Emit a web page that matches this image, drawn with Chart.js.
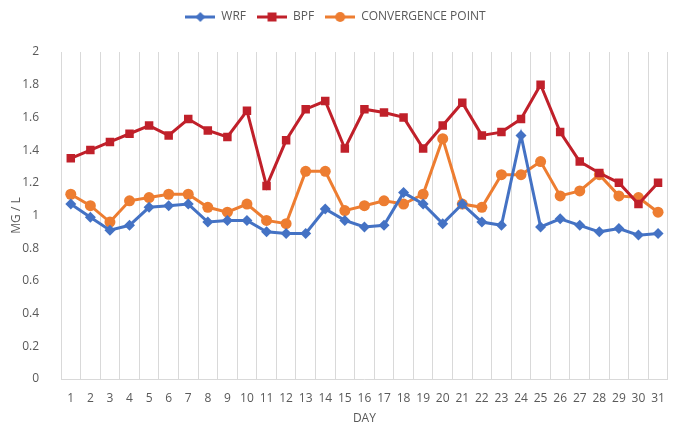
<!DOCTYPE html>
<html>
<head>
<meta charset="utf-8">
<script src="https://cdn.jsdelivr.net/npm/chart.js@4.4.1/dist/chart.umd.min.js"></script>
<style>
  html, body { margin: 0; padding: 0; background: #fff; }
  #wrap { width: 677px; height: 426px; }
</style>
</head>
<body>
<div id="wrap"><canvas id="lineChart"></canvas></div>
<script>
var days = ['1','2','3','4','5','6','7','8','9','10','11','12','13','14','15','16','17','18','19','20','21','22','23','24','25','26','27','28','29','30','31'];
var wrf = [1.07, 0.99, 0.91, 0.94, 1.05, 1.06, 1.07, 0.96, 0.97, 0.97, 0.90, 0.89, 0.89, 1.04, 0.97, 0.93, 0.94, 1.14, 1.07, 0.95, 1.07, 0.96, 0.94, 1.49, 0.93, 0.98, 0.94, 0.90, 0.92, 0.88, 0.89];
var bpf = [1.35, 1.40, 1.45, 1.50, 1.55, 1.49, 1.59, 1.52, 1.48, 1.64, 1.18, 1.46, 1.65, 1.70, 1.41, 1.65, 1.63, 1.60, 1.41, 1.55, 1.69, 1.49, 1.51, 1.59, 1.80, 1.51, 1.33, 1.26, 1.20, 1.07, 1.20];
var convergence = [1.13, 1.06, 0.96, 1.09, 1.11, 1.13, 1.13, 1.05, 1.02, 1.07, 0.97, 0.95, 1.27, 1.27, 1.03, 1.06, 1.09, 1.07, 1.13, 1.47, 1.07, 1.05, 1.25, 1.25, 1.33, 1.12, 1.15, 1.25, 1.12, 1.11, 1.02];

var FONT = "'Open Sans', 'Liberation Sans', sans-serif";

// legend icon: short line with the marker in the middle
function legendIcon(color, shape) {
    var c = document.createElement('canvas');
    c.width = 30; c.height = 14;
    var g = c.getContext('2d');
    g.strokeStyle = color;
    g.fillStyle = color;
    g.lineWidth = 3;
    g.beginPath(); g.moveTo(0, 7); g.lineTo(30, 7); g.stroke();
    g.beginPath();
    if (shape === 'diamond') {
        g.moveTo(15, 2); g.lineTo(20, 7); g.lineTo(15, 12); g.lineTo(10, 7);
    } else if (shape === 'square') {
        g.rect(10.5, 2.5, 9, 9);
    } else {
        g.arc(15, 7, 5, 0, Math.PI * 2);
    }
    g.closePath();
    g.fill();
    return c;
}

// fix the legend height so the plot top lands where the reference has it
Chart.register({
    id: 'legendHeight',
    beforeInit: function (chart) {
        if (!chart.legend) return;
        var orig = chart.legend.fit;
        chart.legend.fit = function () { orig.call(this); this.height = 52; };
    }
});

document.addEventListener('DOMContentLoaded', function () {
    var ctx = document.getElementById('lineChart').getContext('2d');
    var icons = [legendIcon('#4472C4', 'diamond'), legendIcon('#C0202A', 'square'), legendIcon('#ED7D31', 'circle')];

    new Chart(ctx, {
        type: 'line',
        data: {
            labels: days,
            datasets: [{
                label: 'WRF',
                data: wrf,
                borderColor: '#4472C4',
                backgroundColor: '#4472C4',
                borderWidth: 3,
                pointStyle: 'rectRot',
                pointRadius: 5.5,
                pointBorderWidth: 0
            }, {
                label: 'BPF',
                data: bpf,
                borderColor: '#C0202A',
                backgroundColor: '#C0202A',
                borderWidth: 3,
                pointStyle: 'rect',
                pointRadius: 6,
                pointBorderWidth: 0
            }, {
                label: 'CONVERGENCE POINT',
                data: convergence,
                borderColor: '#ED7D31',
                backgroundColor: '#ED7D31',
                borderWidth: 3,
                pointStyle: 'circle',
                pointRadius: 5.5,
                pointBorderWidth: 0
            }]
        },
        options: {
            responsive: true,
            maintainAspectRatio: false,
            animation: false,
            layout: { padding: { left: 0, right: 6, top: 0, bottom: 0 } },
            plugins: {
                legend: {
                    position: 'top',
                    labels: {
                        usePointStyle: true,
                        pointStyleWidth: 30,
                        boxHeight: 14,
                        font: { family: FONT, size: 12 },
                        color: '#595959',
                        padding: 11,
                        generateLabels: function (chart) {
                            return chart.data.datasets.map(function (ds, i) {
                                return {
                                    text: ds.label,
                                    pointStyle: icons[i],
                                    fillStyle: ds.borderColor,
                                    strokeStyle: ds.borderColor,
                                    lineWidth: 0,
                                    datasetIndex: i,
                                    fontColor: '#595959'
                                };
                            });
                        }
                    }
                },
                tooltip: { enabled: false }
            },
            scales: {
                x: {
                    offset: true,
                    afterFit: function (scale) { scale.height = 47; },
                    grid: { display: true, offset: true, color: '#d9d9d9', drawTicks: false },
                    border: { color: '#d9d9d9' },
                    ticks: { color: '#595959', font: { family: FONT, size: 12 }, maxRotation: 0, autoSkip: false, padding: 12 },
                    title: { display: true, text: 'DAY', color: '#595959', font: { family: FONT, size: 12 }, padding: { top: 0, bottom: 0 } }
                },
                y: {
                    min: 0,
                    max: 2,
                    afterFit: function (scale) { scale.width = 61; },
                    grid: { display: false },
                    border: { display: false },
                    ticks: {
                        stepSize: 0.2,
                        color: '#595959',
                        font: { family: FONT, size: 12 },
                        padding: 14,
                        callback: function (v) { return String(Math.round(v * 10) / 10); }
                    },
                    title: { display: true, text: 'MG / L', color: '#595959', font: { family: FONT, size: 12 }, padding: { top: 9, bottom: 0 } }
                }
            }
        }
    });
});
</script>
</body>
</html>
